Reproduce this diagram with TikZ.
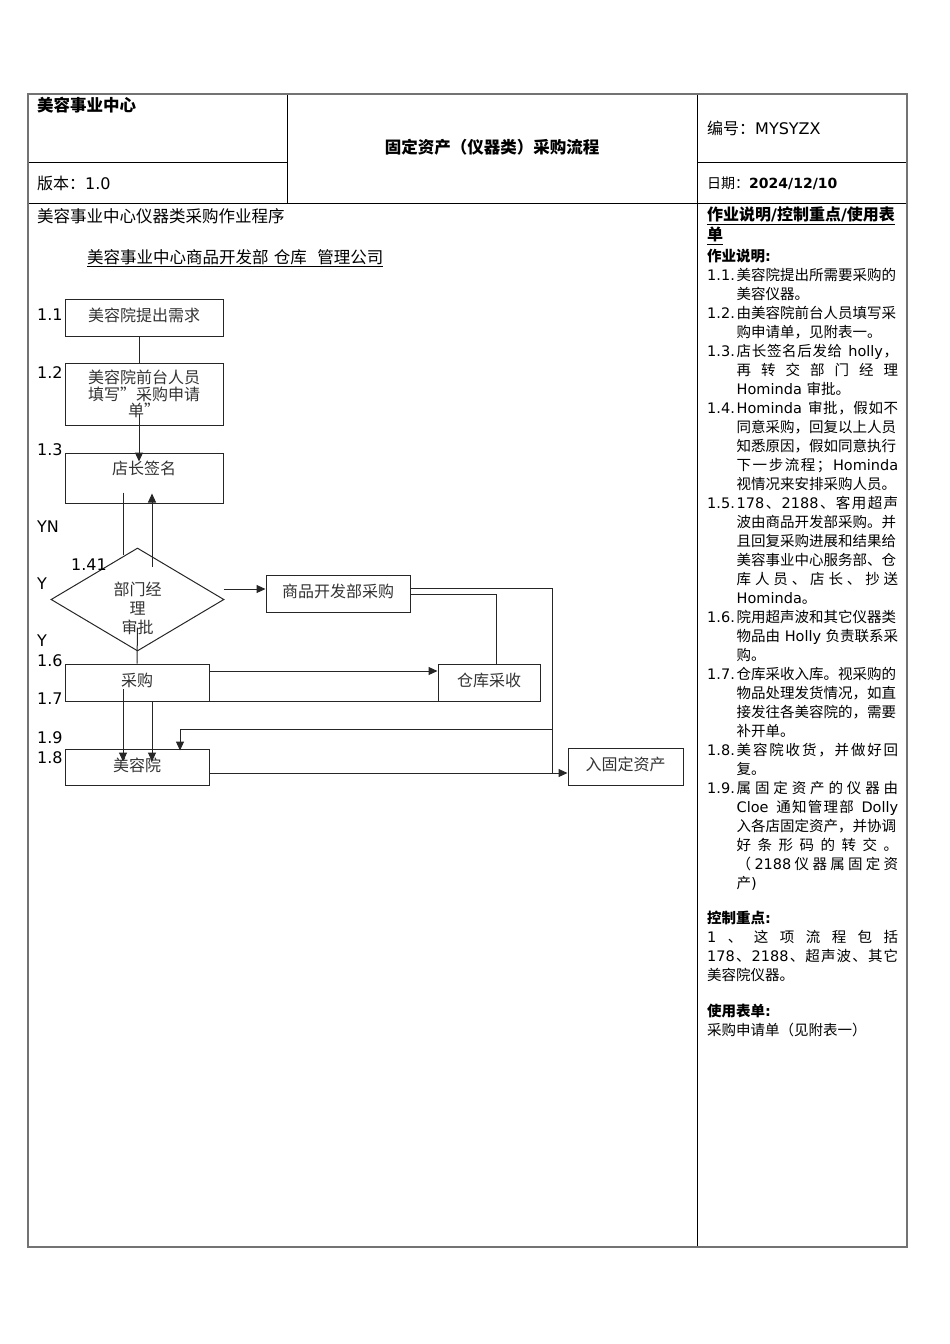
\documentclass[tikz,border=0pt]{standalone}
\usepackage{fontspec}
\setmainfont{DejaVu Sans}
\newfontfamily\latinfont{DejaVu Sans}
\newfontfamily\cjkfont{Noto Sans CJK SC}
\usepackage{tikz}
\usetikzlibrary{shapes.geometric, arrows.meta, calc}

% Chinese runs are set in the CJK face, everything else in DejaVu
\XeTeXinterchartokenstate=1
\newXeTeXintercharclass\CJKclass
\newcount\cjkcode
\newcommand\setcjkrange[2]{%
  \cjkcode=#1\relax
  \loop
    \XeTeXcharclass\cjkcode=\CJKclass
  \ifnum\cjkcode<#2\relax
    \advance\cjkcode by 1
  \repeat}
\setcjkrange{"4E00}{"9FFF}
\setcjkrange{"3000}{"303F}
\setcjkrange{"FF00}{"FFEF}
\setcjkrange{"201C}{"201D}
\newcommand\cjkglue{\hskip 0pt plus 1pt\relax}
\XeTeXinterchartoks 0 \CJKclass = {\cjkglue\cjkfont}
\XeTeXinterchartoks 4095 \CJKclass = {\cjkfont}
\XeTeXinterchartoks \CJKclass 0 = {\cjkglue\latinfont}
\XeTeXinterchartoks \CJKclass 4095 = {\latinfont}
\XeTeXinterchartoks \CJKclass \CJKclass = {\cjkglue}

\newcommand\fsz[2]{\fontsize{#1}{#2}\selectfont}
\newcommand\itemno[1]{\makebox[29.5pt][l]{#1}}
\newcommand\hangin{\hspace*{29.5pt}}
\newcommand\jline[1]{\makebox[161.5pt][s]{#1}}

\begin{document}
\begin{tikzpicture}[
    x=1pt, y=-1pt,
    % Frame Styles
    frameouter/.style={draw=black!55, line width=1.6pt},
    frameinner/.style={draw=black, line width=0.8pt},
    % Box Styles
    txt/.style={anchor=west, inner sep=0pt},
    numlbl/.style={anchor=west, inner sep=0pt, font=\fsz{16}{19}},
    stepbox/.style={rectangle, draw=black!85, line width=1pt, inner sep=0pt, align=center, font=\fsz{16}{16.5}, text=black!80},
    decision/.style={diamond, draw=black!85, line width=1pt, inner sep=0pt, aspect=1.68, font=\fsz{16}{19}, text=black!80},
    % Arrow Styles
    flow/.style={line width=1pt, draw=black!85},
    flowarrow/.style={flow, -{Triangle[length=9pt,width=8pt]}}
]
    \useasboundingbox (0,0) rectangle (950,1344);

    % =========================================================================
    % 1. FORM FRAME & HEADER
    % =========================================================================
    \draw[frameinner] (287,94) -- (287,203);
    \draw[frameinner] (697,94) -- (697,1247);
    \draw[frameinner] (28,162) -- (287,162);
    \draw[frameinner] (697,162) -- (907,162);
    \draw[frameinner] (28,203) -- (907,203);
    \draw[frameouter] (28,94) rectangle (907,1247);

    \node (org)     [txt, font=\fsz{16.5}{19}\bfseries] at (37,105) {美容事业中心};
    \node (title)   [inner sep=0pt, font=\fsz{16.5}{19}\bfseries] at (492,147) {固定资产（仪器类）采购流程};
    \node (docno)   [txt, font=\fsz{16}{19}] at (707,128) {编号：MYSYZX};
    \node (version) [txt, font=\fsz{16}{19}] at (37,183) {版本：1.0};
    \node (date)    [txt, font=\fsz{14}{19}] at (707,183) {日期：\textbf{2024/12/10}};

    % =========================================================================
    % 2. LEFT: PROCEDURE FLOWCHART
    % =========================================================================
    \node (proc)  [txt, font=\fsz{16.5}{19}] at (37,216) {美容事业中心仪器类采购作业程序};
    \node (lanes) [txt, font=\fsz{16.5}{19}] at (87,258) {\underline{美容事业中心商品开发部 仓库\ \ 管理公司}};

    \node (b1) [stepbox, minimum width=158pt, minimum height=37pt, text depth=5pt] at (144,317.5) {美容院提出需求};
    \node (b2) [stepbox, minimum width=158pt, minimum height=62pt] at (144,394) {美容院前台人员\\填写”采购申请\\单”};
    \node (b3) [stepbox, minimum width=158pt, minimum height=50pt, text depth=20pt] at (144,478) {店长签名};
    \node (dm) [decision, minimum width=173pt, minimum height=103pt] at (137.5,599.5)
      {\raisebox{-11pt}[\height][\depth]{\begin{tabular}{@{}c@{}}部门经\\理\\审批\end{tabular}}};
    \node (b4) [stepbox, minimum width=144pt, minimum height=37pt, text depth=5pt] at (338,593.5) {商品开发部采购};
    \node (b5) [stepbox, minimum width=144pt, minimum height=37pt, text depth=5pt] at (137,682.5) {采购};
    \node (b6) [stepbox, minimum width=102pt, minimum height=37pt, text depth=5pt] at (489,682.5) {仓库采收};
    \node (b7) [stepbox, minimum width=144pt, minimum height=36pt, text depth=5pt] at (137,767) {美容院};
    \node (b8) [stepbox, minimum width=115pt, minimum height=37pt, text depth=5pt] at (625.5,766.5) {入固定资产};

    % step numbers
    \node (n11)  [numlbl] at (37,315) {1.1};
    \node (n12)  [numlbl] at (37,373) {1.2};
    \node (n13)  [numlbl] at (37,450) {1.3};
    \node (nyn)  [numlbl] at (37,527) {YN};
    \node (n141) [numlbl] at (71,565) {1.41};
    \node (ny1)  [numlbl] at (37,584) {Y};
    \node (ny2)  [numlbl] at (37,641) {Y};
    \node (n16)  [numlbl] at (37,661) {1.6};
    \node (n17)  [numlbl] at (37,699) {1.7};
    \node (n19)  [numlbl] at (37,738) {1.9};
    \node (n18)  [numlbl] at (37,758) {1.8};

    % connections
    \draw[flow] ([xshift=-5pt]b1.south) -- ([xshift=-5pt]b2.north);
    \draw[flowarrow] ([xshift=-5pt,yshift=12pt]b2.south) -- ([xshift=-5pt,yshift=-9pt]b3.north);
    \draw[flow] ([xshift=-21pt,yshift=11pt]b3.south) -- ([xshift=-14.5pt,yshift=-7pt]dm.north);
    \draw[flowarrow] ([xshift=14.5pt,yshift=-19pt]dm.north) -- ([xshift=8pt,yshift=10pt]b3.south);
    \draw[flowarrow] ([xshift=-1pt,yshift=10.5pt]dm.east) -- ([yshift=4.5pt]b4.west);
    \draw[flow] ([yshift=24pt]dm.south) -- (b5.north);
    \draw[flowarrow] ([yshift=11.5pt]b5.east) -- ([yshift=11.5pt]b6.west);
    \draw[flow] ([xshift=7pt]b6.south) -- (b5.south east);
    \draw[flow] ([yshift=-0.5pt]b4.east) -| ([xshift=7pt]b6.north);
    \draw[flow] ([yshift=5.5pt]b4.east) -| ([xshift=-15pt,yshift=-6.5pt]b8.west);
    \coordinate (bus) at (553,729);
    \draw[flowarrow] (bus) -| ([xshift=43pt,yshift=-2pt]b7.north);
    \draw[flowarrow] ([xshift=-14pt,yshift=-6.5pt]b5.center) -- ([xshift=-14pt,yshift=-13pt]b7.north);
    \draw[flowarrow] ([xshift=15pt]b5.south) -- ([xshift=15pt,yshift=-13pt]b7.north);
    \draw[flowarrow] ([yshift=-6pt]b7.east) -- ([yshift=-6.5pt]b8.west);

    % =========================================================================
    % 3. RIGHT: NOTES / CONTROL POINTS / FORMS
    % =========================================================================
    \node (rhead) [inner sep=0pt, anchor=north west, align=left, font=\fsz{16}{20}\bfseries] at (707,207)
      {\underline{作业说明/控制重点/使用表}\\\underline{单}};
    \node (rbody) [inner sep=0pt, anchor=north west, align=left, font=\fsz{14.5}{19}] at (707,249) {
      \textbf{作业说明:}\\
      \itemno{1.1.}美容院提出所需要采购的\\
      \hangin 美容仪器。\\
      \itemno{1.2.}由美容院前台人员填写采\\
      \hangin 购申请单，见附表一。\\
      \itemno{1.3.}\jline{店长签名后发给 holly，}\\
      \hangin\jline{再转交部门经理}\\
      \hangin Hominda 审批。\\
      \itemno{1.4.}\jline{Hominda 审批，假如不}\\
      \hangin 同意采购，回复以上人员\\
      \hangin 知悉原因，假如同意执行\\
      \hangin\jline{下一步流程；Hominda}\\
      \hangin 视情况来安排采购人员。\\
      \itemno{1.5.}\jline{178、2188、客用超声}\\
      \hangin 波由商品开发部采购。并\\
      \hangin 且回复采购进展和结果给\\
      \hangin 美容事业中心服务部、仓\\
      \hangin\jline{库人员、店长、抄送}\\
      \hangin Hominda。\\
      \itemno{1.6.}院用超声波和其它仪器类\\
      \hangin\jline{物品由 Holly 负责联系采}\\
      \hangin 购。\\
      \itemno{1.7.}仓库采收入库。视采购的\\
      \hangin 物品处理发货情况，如直\\
      \hangin 接发往各美容院的，需要\\
      \hangin 补开单。\\
      \itemno{1.8.}\jline{美容院收货，并做好回}\\
      \hangin 复。\\
      \itemno{1.9.}\jline{属固定资产的仪器由}\\
      \hangin\jline{Cloe 通知管理部 Dolly}\\
      \hangin 入各店固定资产，并协调\\
      \hangin\jline{好条形码的转交。}\\
      \hangin\jline{（2188仪器属固定资}\\
      \hangin 产)\\[16pt]
      \textbf{控制重点:}\\
      \makebox[191pt][s]{1、这项流程包括}\\
      \makebox[191pt][s]{178、2188、超声波、其它}\\
      美容院仪器。\\[17pt]
      \textbf{使用表单:}\\
      采购申请单（见附表一）};

\end{tikzpicture}
\end{document}
